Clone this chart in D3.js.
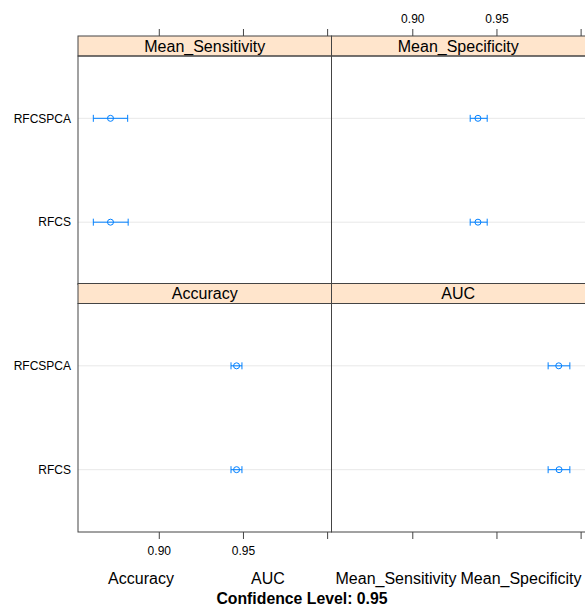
<!DOCTYPE html>
<html>
<head>
<meta charset="utf-8">
<script src="https://cdn.jsdelivr.net/npm/d3@7"></script>
<style>
  body { margin: 0; background: #fff; }
  text { font-family: "Liberation Sans", Arial, sans-serif; fill: #000; }
</style>
</head>
<body>
<div id="svgContainer"></div>
<script>
var width = 585;
var height = 606;

// models on the y axis (bottom to top)
const models = ["RFCS", "RFCSPCA"];
// panel titles, row by row
const metrics = ["Mean_Sensitivity", "Mean_Specificity", "Accuracy", "AUC"];
// [lower, estimate, upper] per model, same order as models
const sensitivity = [[0.8611, 0.8713, 0.8818], [0.8611, 0.8713, 0.8815]];
const specificity = [[0.9344, 0.9390, 0.9445], [0.9344, 0.9390, 0.9445]];
const accuracy = [[0.9429, 0.9462, 0.9494], [0.9429, 0.9462, 0.9494]];
const auc = [[0.9807, 0.9872, 0.9936], [0.9807, 0.9870, 0.9936]];
const xTicks = [0.90, 0.95, 1.00];
const xTickLabels = ["0.90", "0.95", ""];
const xlabParts = ["Accuracy", "AUC", "Mean_Sensitivity", "Mean_Specificity"];

const panelValues = [sensitivity, specificity, accuracy, auc];

var svg = d3.select("#svgContainer").append("svg").attr("width", width).attr("height", height)

var left = 78, panelW = 253.5, stripH = 20
var rowTop = [36, 283.5], rowH = 228.5

function xScale(col) {
  var x0 = left + col * panelW
  return d3.scaleLinear().domain([0.852, 1.0026]).range([x0, x0 + panelW])
}
var yDomain = [0.4, models.length + 0.6]

metrics.forEach(function(m, i) {
  var col = i % 2, row = i >> 1
  var x = xScale(col)
  var top = rowTop[row]
  // the right column runs past the picture edge, so its border is cut off
  var boxW = col == 1 ? panelW + 8 : panelW
  var y = d3.scaleLinear().domain(yDomain).range([top + stripH + rowH, top + stripH])
  var g = svg.append("g")

  // strip
  g.append("rect").attr("x", x.range()[0]).attr("y", top).attr("width", boxW).attr("height", stripH)
    .attr("fill", "#ffe5cc").attr("stroke", "#444").attr("stroke-width", 1)
  g.append("text").attr("x", (x.range()[0] + x.range()[1]) / 2).attr("y", top + stripH / 2 + 5.7)
    .attr("text-anchor", "middle").style("font-size", "16px").text(m)

  // reference lines
  g.selectAll(".ref").data(models).join("line")
    .attr("x1", x.range()[0]).attr("x2", x.range()[1])
    .attr("y1", (d, k) => y(k + 1)).attr("y2", (d, k) => y(k + 1))
    .style("stroke", "#e8e8e8").style("stroke-width", 1)

  var vals = panelValues[i]
  var pts = g.selectAll(".pt").data(vals).join("g")
  pts.append("line").attr("x1", d => x(d[0])).attr("x2", d => x(d[2]))
    .attr("y1", (d, k) => y(k + 1)).attr("y2", (d, k) => y(k + 1))
    .style("stroke", "#0080ff").style("stroke-width", 1)
  pts.append("line").attr("x1", d => x(d[0])).attr("x2", d => x(d[0]))
    .attr("y1", (d, k) => y(k + 1) - 3.5).attr("y2", (d, k) => y(k + 1) + 3.5)
    .style("stroke", "#0080ff")
  pts.append("line").attr("x1", d => x(d[2])).attr("x2", d => x(d[2]))
    .attr("y1", (d, k) => y(k + 1) - 3.5).attr("y2", (d, k) => y(k + 1) + 3.5)
    .style("stroke", "#0080ff")
  pts.append("circle").attr("cx", d => x(d[1])).attr("cy", (d, k) => y(k + 1)).attr("r", 3)
    .style("fill", "none").style("stroke", "#0080ff").style("stroke-width", 1)

  // panel border
  g.append("rect").attr("x", x.range()[0]).attr("y", top + stripH).attr("width", boxW).attr("height", rowH)
    .attr("fill", "none").attr("stroke", "#444").attr("stroke-width", 1)

  // row labels on left column only
  if (col == 0) {
    g.selectAll(".lab").data(models).join("text")
      .attr("x", 71).attr("y", (d, k) => y(k + 1) + 4.3)
      .attr("text-anchor", "end").style("font-size", "12px").text(d => d)
  }
})

// x axes: ticks on top and bottom, labels alternate
;[0, 1].forEach(function(col) {
  var x = xScale(col)
  var topAxis = d3.axisTop(x).tickValues(xTicks).tickSize(7).tickPadding(6)
    .tickFormat((d, k) => col == 1 ? xTickLabels[k] : "")
  var botAxis = d3.axisBottom(x).tickValues(xTicks).tickSize(7).tickPadding(7)
    .tickFormat((d, k) => col == 0 ? xTickLabels[k] : "")
  var ga = svg.append("g").attr("transform", "translate(0," + rowTop[0] + ")").call(topAxis)
  var gb = svg.append("g").attr("transform", "translate(0," + (rowTop[1] + stripH + rowH) + ")").call(botAxis)
  ;[ga, gb].forEach(function(a) {
    a.select(".domain").remove()
    a.selectAll("line").attr("stroke", "#444")
    a.selectAll("text").style("font-size", "12px").style("font-family", "Liberation Sans, Arial, sans-serif").attr("fill", "#000")
  })
})

// x label pieces
var xlabX = [141, 268, 396, 521]
svg.selectAll(".xlab").data(xlabParts).join("text")
  .attr("x", (d, k) => xlabX[k]).attr("y", 584)
  .attr("text-anchor", "middle").style("font-size", "16px").text(d => d)

svg.append("text").attr("x", 302).attr("y", 603.5).attr("text-anchor", "middle")
  .style("font-size", "15.8px").style("font-weight", "bold").text("Confidence Level: 0.95")
</script>
</body>
</html>
